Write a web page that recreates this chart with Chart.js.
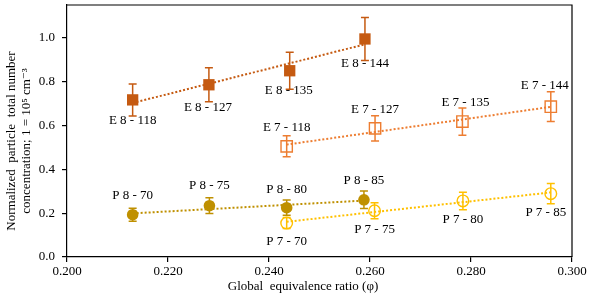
<!DOCTYPE html>
<html>
<head>
<meta charset="utf-8">
<script src="https://cdn.jsdelivr.net/npm/chart.js@4/dist/chart.umd.min.js"></script>
<style>
  html, body { margin: 0; padding: 0; background: #fff; }
  #wrap { width: 593px; height: 298px; }
</style>
</head>
<body>
<div id="wrap"><canvas id="phiChart" width="593" height="298"></canvas></div>
<script>
// data
const e8Phi = [0.2130, 0.2281, 0.2441, 0.2590];
const e8Val = [0.717, 0.786, 0.850, 0.995];
const e8Err = [0.073, 0.078, 0.084, 0.098];
const e8Labels = ['E 8 - 118', 'E 8 - 127', 'E 8 - 135', 'E 8 - 144'];

const e7Phi = [0.2435, 0.2610, 0.2783, 0.2958];
const e7Val = [0.505, 0.587, 0.618, 0.686];
const e7Err = [0.048, 0.058, 0.062, 0.068];
const e7Labels = ['E 7 - 118', 'E 7 - 127', 'E 7 - 135', 'E 7 - 144'];

const p8Phi = [0.2130, 0.2282, 0.2435, 0.2588];
const p8Val = [0.193, 0.234, 0.225, 0.261];
const p8Err = [0.030, 0.036, 0.035, 0.040];
const p8Labels = ['P 8 - 70', 'P 8 - 75', 'P 8 - 80', 'P 8 - 85'];

const p7Phi = [0.2435, 0.2609, 0.2784, 0.2958];
const p7Val = [0.155, 0.211, 0.256, 0.289];
const p7Err = [0.025, 0.037, 0.040, 0.046];
const p7Labels = ['P 7 - 70', 'P 7 - 75', 'P 7 - 80', 'P 7 - 85'];

const xTicks = [0.20, 0.22, 0.24, 0.26, 0.28, 0.30];
const yTicks = [0.0, 0.2, 0.4, 0.6, 0.8, 1.0];

// label placement (pixel offsets from the marker)
const e8Offset = [[0, 21], [-1, 23], [-1, 20], [0, 25]];
const e7Offset = [[0, -19], [0, -19], [3, -19], [-6, -21]];
const p8Offset = [[0, -19], [0, -20], [0, -18], [0, -19]];
const p7Offset = [[0, 19], [0, 19], [0, 19], [-5, 19]];

const FONT = "'Liberation Serif', 'DejaVu Serif', serif";

function pts(xs, ys) {
  return xs.map((x, i) => ({ x: x, y: ys[i] }));
}

// least-squares trendline, drawn between first and last phi
function trend(xs, ys) {
  const n = xs.length;
  const mx = xs.reduce((a, b) => a + b, 0) / n;
  const my = ys.reduce((a, b) => a + b, 0) / n;
  let sxy = 0, sxx = 0;
  xs.forEach((x, i) => { sxy += (x - mx) * (ys[i] - my); sxx += (x - mx) * (x - mx); });
  const m = sxy / sxx;
  const b = my - m * mx;
  const x0 = Math.min(...xs), x1 = Math.max(...xs);
  return [{ x: x0, y: m * x0 + b }, { x: x1, y: m * x1 + b }];
}

const series = [
  { phi: e8Phi, val: e8Val, err: e8Err, labels: e8Labels, off: e8Offset, color: '#C55A11', style: 'rect', filled: true },
  { phi: e7Phi, val: e7Val, err: e7Err, labels: e7Labels, off: e7Offset, color: '#ED7D31', style: 'rect', filled: false },
  { phi: p8Phi, val: p8Val, err: p8Err, labels: p8Labels, off: p8Offset, color: '#BF9000', style: 'circle', filled: true },
  { phi: p7Phi, val: p7Val, err: p7Err, labels: p7Labels, off: p7Offset, color: '#FFC000', style: 'circle', filled: false }
];

const datasets = [];
series.forEach(s => {
  datasets.push({
    type: 'line',
    data: trend(s.phi, s.val),
    borderColor: s.color,
    borderWidth: 2,
    borderDash: [2, 2],
    pointRadius: 0,
    fill: false,
    order: 2
  });
});
series.forEach(s => {
  datasets.push({
    type: 'scatter',
    data: pts(s.phi, s.val),
    pointStyle: s.style,
    pointRadius: s.style === 'rect' ? 8 : 5.8,
    pointBackgroundColor: s.filled ? s.color : 'rgba(0,0,0,0)',
    pointBorderColor: s.color,
    pointBorderWidth: s.filled ? 0 : 1.4,
    order: 1
  });
});

const extras = {
  id: 'extras',
  beforeDatasetsDraw(chart) {
    const ctx = chart.ctx;
    const xs = chart.scales.x, ys = chart.scales.y;
    ctx.save();
    series.forEach(s => {
      ctx.strokeStyle = s.color;
      ctx.lineWidth = 1.5;
      s.phi.forEach((p, i) => {
        const px = xs.getPixelForValue(p);
        const top = ys.getPixelForValue(s.val[i] + s.err[i]);
        const bot = ys.getPixelForValue(s.val[i] - s.err[i]);
        ctx.beginPath();
        ctx.moveTo(px, top); ctx.lineTo(px, bot);
        ctx.moveTo(px - 4, top); ctx.lineTo(px + 4, top);
        ctx.moveTo(px - 4, bot); ctx.lineTo(px + 4, bot);
        ctx.stroke();
      });
    });
    ctx.restore();
  },
  afterDraw(chart) {
    const ctx = chart.ctx;
    const a = chart.chartArea;
    const xs = chart.scales.x, ys = chart.scales.y;
    ctx.save();
    // frame top and right
    ctx.strokeStyle = '#000';
    ctx.lineWidth = 1.2;
    ctx.beginPath();
    ctx.moveTo(a.left, a.top); ctx.lineTo(a.right, a.top); ctx.lineTo(a.right, a.bottom);
    ctx.stroke();

    // point labels
    ctx.fillStyle = '#000';
    ctx.font = '13px ' + FONT;
    ctx.textAlign = 'center';
    ctx.textBaseline = 'middle';
    series.forEach(s => {
      s.phi.forEach((p, i) => {
        const px = xs.getPixelForValue(p) + s.off[i][0];
        const py = ys.getPixelForValue(s.val[i]) + s.off[i][1];
        ctx.fillText(s.labels[i], px, py);
      });
    });

    // axis titles
    ctx.fillText('Global  equivalence ratio (\u03C6)', 303, 287);
    ctx.save();
    ctx.translate(12, 141);
    ctx.rotate(-Math.PI / 2);
    ctx.fillText('Normalized  particle  total number', 0, 0);
    ctx.restore();
    ctx.save();
    ctx.translate(27, 141);
    ctx.rotate(-Math.PI / 2);
    ctx.fillText('concentration; 1 = 10\u2075 cm\u207B\u00B3', 0, 0);
    ctx.restore();
    ctx.restore();
  }
};

const ctx = document.getElementById('phiChart').getContext('2d');
const chart = new Chart(ctx, {
  data: { datasets: datasets },
  options: {
    responsive: false,
    animation: false,
    layout: { autoPadding: false, padding: { left: 0, top: 5, right: 21, bottom: 0 } },
    plugins: { legend: { display: false }, tooltip: { enabled: false } },
    scales: {
      x: {
        type: 'linear',
        min: 0.2, max: 0.3,
        afterFit: s => { s.height = 41; s.paddingLeft = 0; s.paddingRight = 0; },
        afterBuildTicks: s => { s.ticks = xTicks.map(v => ({ value: v })); },
        border: { display: true, color: '#000', width: 1.2 },
        grid: { display: true, drawOnChartArea: false, drawTicks: true, tickLength: 5, color: '#000', lineWidth: 1.2 },
        ticks: {
          color: '#000', padding: 2, maxRotation: 0,
          font: { family: FONT, size: 13 },
          callback: v => v.toFixed(3)
        }
      },
      y: {
        type: 'linear',
        min: 0, max: 1.15,
        afterFit: s => { s.width = 67; s.paddingTop = 0; s.paddingBottom = 0; },
        afterBuildTicks: s => { s.ticks = yTicks.map(v => ({ value: v })); },
        border: { display: true, color: '#000', width: 1.2 },
        grid: { display: true, drawOnChartArea: false, drawTicks: true, tickLength: 5, color: '#000', lineWidth: 1.2 },
        ticks: {
          color: '#000', padding: 7,
          font: { family: FONT, size: 13 },
          callback: v => v.toFixed(1)
        }
      }
    }
  },
  plugins: [extras]
});
</script>
</body>
</html>
